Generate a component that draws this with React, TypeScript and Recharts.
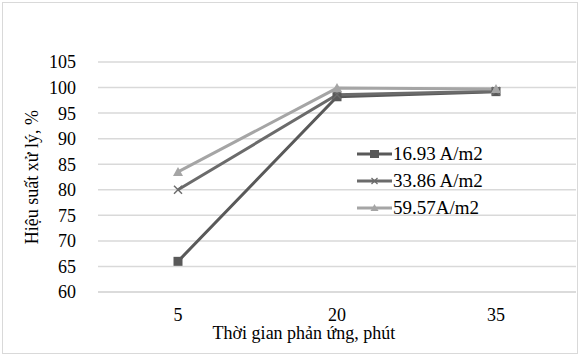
import { LineChart, Line, XAxis, YAxis, CartesianGrid } from 'recharts';

const times = ['5', '20', '35'];
const s1693 = [66, 98.2, 99.2];
const s3386 = [80, 98.6, 99.3];
const s5957 = [83.5, 99.9, 99.7];
const yTicks = [60, 65, 70, 75, 80, 85, 90, 95, 100, 105];

const data = times.map((t, i) => ({ t, a: s1693[i], b: s3386[i], c: s5957[i] }));

const FONT = 'Liberation Serif';

const SquareDot = (props: any) => {
    const { cx, cy, fill } = props;
    if (cx == null || cy == null) return null;
    return <rect x={cx - 4.5} y={cy - 4.5} width={9} height={9} fill={fill} />;
};

const CrossDot = (props: any) => {
    const { cx, cy, stroke } = props;
    if (cx == null || cy == null) return null;
    return (
        <g stroke={stroke} strokeWidth={1.5}>
            <line x1={cx - 4} y1={cy - 4} x2={cx + 4} y2={cy + 4} />
            <line x1={cx - 4} y1={cy + 4} x2={cx + 4} y2={cy - 4} />
        </g>
    );
};

const TriDot = (props: any) => {
    const { cx, cy, fill } = props;
    if (cx == null || cy == null) return null;
    return <polygon points={`${cx},${cy - 5} ${cx + 5},${cy + 4} ${cx - 5},${cy + 4}`} fill={fill} />;
};

const series = [
    { key: 'a', name: '16.93 A/m2', color: '#595959', dot: SquareDot },
    { key: 'b', name: '33.86 A/m2', color: '#6b6b6b', dot: CrossDot },
    { key: 'c', name: '59.57A/m2', color: '#a5a5a5', dot: TriDot },
];

const LegendBox = () => (
    <div style={{ position: 'absolute', left: 357, top: 140, fontFamily: FONT, fontSize: 19, color: '#000', lineHeight: '27px' }}>
        {series.map(s => (
            <div key={s.key} style={{ display: 'flex', alignItems: 'center' }}>
                <svg width={35} height={12} style={{ marginRight: 1 }}>
                    <line x1={0} y1={6} x2={35} y2={6} stroke={s.color} strokeWidth={3} />
                    {s.key === 'a' && <rect x={13} y={2} width={9} height={8} fill={s.color} />}
                    {s.key === 'b' && (
                        <g stroke={s.color} strokeWidth={1.2}>
                            <line x1={14.5} y1={3} x2={20.5} y2={9} />
                            <line x1={14.5} y1={9} x2={20.5} y2={3} />
                        </g>
                    )}
                    {s.key === 'c' && <polygon points="17.5,2 21.5,9 13.5,9" fill={s.color} />}
                </svg>
                <span>{s.name}</span>
            </div>
        ))}
    </div>
);

export default function App() {
    return (
        <div style={{ position: 'absolute', left: 0, top: 0, width: 580, height: 359, background: '#fff', fontFamily: FONT }}>
            <div style={{ position: 'absolute', left: 2, top: 2, width: 574, height: 350, border: '1px solid #d9d9d9' }} />
            <LineChart width={580} height={359} data={data} margin={{ top: 62, right: 4, left: 0, bottom: 0 }} style={{ fontFamily: FONT }}>
                <CartesianGrid vertical={false} stroke="#d9d9d9" strokeWidth={1.5} />
                <XAxis
                    dataKey="t"
                    padding={{ left: 80, right: 80 }}
                    height={67}
                    axisLine={{ stroke: '#d9d9d9', strokeWidth: 1.5 }}
                    tickLine={false}
                    tick={{ fill: '#000', fontFamily: FONT, fontSize: 18 }}
                    tickMargin={10}
                    label={{
                        value: 'Thời gian phản ứng, phút',
                        position: 'insideBottom',
                        offset: 20,
                        dx: -33,
                        fill: '#000',
                        fontFamily: FONT,
                        fontSize: 18,
                    }}
                />
                <YAxis
                    domain={[60, 105]}
                    ticks={yTicks}
                    interval={0}
                    width={98}
                    axisLine={false}
                    tickLine={false}
                    tick={{ fill: '#000', fontFamily: FONT, fontSize: 18 }}
                    tickMargin={16}
                    label={{
                        value: 'Hiệu suất xử lý, %',
                        angle: -90,
                        position: 'insideLeft',
                        offset: 32,
                        fill: '#000',
                        fontFamily: FONT,
                        fontSize: 18,
                        style: { textAnchor: 'middle' },
                    }}
                />
                {series.map(s => (
                    <Line
                        key={s.key}
                        type="linear"
                        dataKey={s.key}
                        name={s.name}
                        stroke={s.color}
                        fill={s.color}
                        strokeWidth={3}
                        dot={<s.dot />}
                        activeDot={false}
                        isAnimationActive={false}
                    />
                ))}
            </LineChart>
            <LegendBox />
        </div>
    );
}
